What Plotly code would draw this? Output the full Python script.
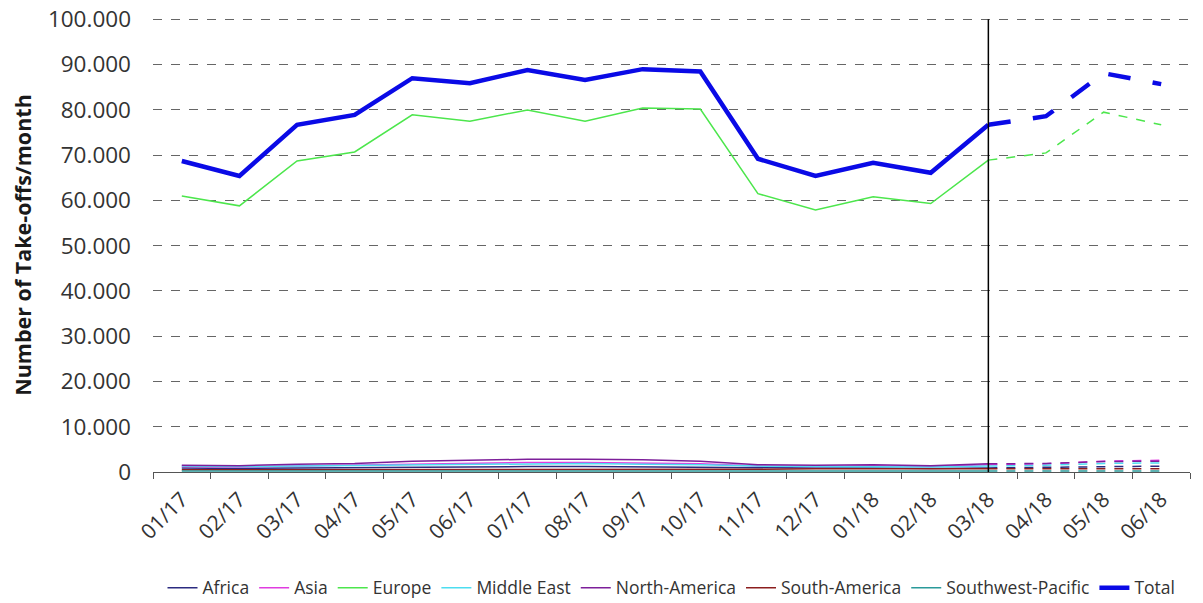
import plotly.graph_objects as go

months = ["01/17", "02/17", "03/17", "04/17", "05/17", "06/17", "07/17", "08/17", "09/17",
          "10/17", "11/17", "12/17", "01/18", "02/18", "03/18", "04/18", "05/18", "06/18"]

africa = [900, 800, 900, 1000, 1100, 1100, 1200, 1200, 1100, 1100, 900, 900, 900, 800, 900, 1000, 1200, 1300]
asia = [1200, 1100, 1300, 1500, 1800, 1900, 2100, 2100, 2000, 1800, 1300, 1200, 1300, 1200, 1600, 1800, 2400, 2600]
europe = [61000, 58800, 68700, 70700, 78900, 77500, 80000, 77500, 80400, 80200, 61500, 57900, 60800, 59300, 68900, 70500, 79500, 76700]
middle_east = [1300, 1200, 1300, 1400, 1600, 1700, 1800, 1900, 1700, 1600, 1300, 1200, 1200, 1100, 1300, 1500, 1900, 2000]
north_america = [1500, 1400, 1700, 1900, 2400, 2600, 2800, 2800, 2700, 2400, 1600, 1500, 1600, 1400, 1800, 1900, 2300, 2400]
south_america = [500, 500, 600, 600, 600, 600, 600, 600, 600, 600, 600, 700, 700, 600, 700, 700, 700, 700]
sw_pacific = [200, 200, 200, 200, 200, 200, 200, 200, 200, 200, 200, 200, 200, 200, 200, 200, 200, 200]
total = [68700, 65400, 76700, 78900, 87000, 85900, 88800, 86600, 89000, 88500, 69200, 65400, 68300, 66100, 76700, 78600, 88100, 85700]

last_actual = 14  # index of 03/18

series = [
    ("Africa", africa, "#2B2B80", 1.5),
    ("Asia", asia, "#E03CE0", 1.5),
    ("Europe", europe, "#4CE64C", 1.5),
    ("Middle East", middle_east, "#4DDDF0", 1.5),
    ("North-America", north_america, "#7D1F9A", 1.5),
    ("South-America", south_america, "#8B1E1E", 1.5),
    ("Southwest-Pacific", sw_pacific, "#2A9A9A", 1.5),
    ("Total", total, "#0A0AE6", 4.5),
]

fig = go.Figure()
for name, vals, color, w in series:
    fig.add_trace(go.Scatter(
        x=months[:last_actual + 1], y=vals[:last_actual + 1], mode="lines", name=name,
        legendgroup=name, line=dict(color=color, width=w)))
    fig.add_trace(go.Scatter(
        x=months[last_actual:], y=vals[last_actual:], mode="lines", name=name,
        legendgroup=name, showlegend=False,
        line=dict(color=color, width=w, dash="longdash" if name == "Total" else "dash")))

fig.add_shape(type="line", xref="x", yref="y", x0=months[last_actual], x1=months[last_actual],
              y0=0, y1=100000, line=dict(color="black", width=1.5))

fig.update_layout(
    width=1203, height=603,
    margin=dict(l=145, r=21, t=10, b=139, autoexpand=False),
    plot_bgcolor="white", paper_bgcolor="white",
    separators=",.",
    font=dict(family="Open Sans, Noto Sans, sans-serif", color="#333333"),
    showlegend=True,
    legend=dict(orientation="h", x=0.5, xanchor="center", y=-0.255, yanchor="middle",
                font=dict(size=17.5, color="#333333"), itemwidth=30, tracegroupgap=0),
    xaxis=dict(
        categoryorder="array", categoryarray=months, range=[-0.5, 17.5], automargin=False,
        tickangle=-45, tickfont=dict(size=21, color="#333333"), ticklabelstandoff=6,
        ticks="outside", tickson="boundaries", ticklen=6, tickcolor="#555555",
        showline=True, linecolor="#555555", linewidth=1, showgrid=False, zeroline=False),
    yaxis=dict(
        range=[0, 100300], tickvals=list(range(0, 100001, 10000)), tickformat=",d",
        tickfont=dict(size=22.5, color="#333333"), automargin=False, ticklabelstandoff=21,
        ticklabeloverflow="allow",
        showgrid=True, gridcolor="#666666", griddash="dash", gridwidth=1,
        zeroline=False, showline=False,
        title=dict(text="<b>Number of Take-offs/month</b>", font=dict(size=21.5, color="#1a1a1a"), standoff=26)),
)

fig.write_html("out.html")
